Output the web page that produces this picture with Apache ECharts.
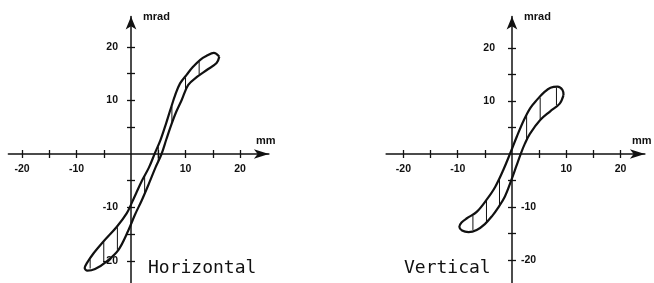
<!DOCTYPE html>
<html>
<head>
<meta charset="utf-8">
<script src="https://cdn.jsdelivr.net/npm/echarts@6/dist/echarts.min.js"></script>
<style>
  html, body { margin: 0; padding: 0; background: #fff; }
  #chart { width: 654px; height: 283px; }
</style>
</head>
<body>
<div id="chart"></div>
<script>
// tick positions and labels (mm / mrad)
var ticks = [-20, -15, -10, -5, 5, 10, 15, 20];
var xLabels = [-20, -10, 10, 20];
var hYLabels = [20, 10, -10, -20];
var vYLabelsLeft = [20, 10];
var vYLabelsRight = [-10, -20];

// Horizontal loop, upper branch then lower branch [mm, mrad]
var hUpper = [[16.2, 18.2], [15.2, 18.9], [13.8, 18.3], [12.7, 17.6], [11.3, 16.2], [10.2, 14.8],
  [9.0, 13.2], [8.1, 11.0], [7.2, 8.2], [6.4, 5.6], [5.4, 2.6], [4.4, 0.2], [3.3, -2.5],
  [2.0, -5.0], [1.0, -7.2], [0.2, -9.0], [-0.8, -11.1], [-2.6, -13.6], [-5.1, -16.4],
  [-6.9, -18.6], [-8.1, -20.4], [-8.5, -21.3]];
var hLower = [[-8.0, -21.8], [-6.6, -21.5], [-4.5, -20.1], [-2.3, -17.9], [-0.5, -14.3],
  [0.7, -11.4], [2.0, -8.6], [3.3, -5.5], [4.5, -2.5], [5.6, 0], [6.5, 2.8], [7.4, 5.5],
  [8.3, 7.9], [9.3, 10.1], [10.5, 12.9], [12.1, 14.4], [13.9, 15.7], [15.7, 17.0], [16.2, 18.2]];
var hHatchX = [12.5, 10, 7.5, 5, 2.5, -2.5, -5, -7.5];
var hHatchTop = [17.2, 14.3, 8.9, 1.3, -4.2, -13.7, -16.5, -19.7];
var hHatchBottom = [14.9, 11.9, 6.0, -1.3, -7.2, -17.9, -20.2, -21.4];

// Vertical loop
var vUpper = [[9.5, 11.1], [9.3, 12.1], [8.4, 12.7], [7.1, 12.5], [6.0, 11.7], [4.6, 10.2],
  [3.4, 8.7], [2.2, 6.4], [0.9, 3.3], [-0.3, 0.2], [-1.6, -3.0], [-3.1, -6.2], [-4.6, -8.5],
  [-6.5, -10.9], [-8.3, -12.1], [-9.3, -12.9], [-9.7, -13.7]];
var vLower = [[-9.2, -14.4], [-8.0, -14.7], [-6.5, -14.3], [-5.0, -13.2], [-3.6, -11.6],
  [-2.6, -10.2], [-1.3, -8.0], [0, -4.6], [0.8, -2.3], [1.6, 0], [2.4, 2.0], [3.3, 3.8],
  [5.2, 6.4], [7.0, 8.0], [8.8, 9.5], [9.5, 11.1]];
var vHatchX = [8.2, 5.2, 2.7, -2.3, -4.7, -7.2];
var vHatchTop = [12.5, 10.6, 7.2, -4.7, -8.8, -11.6];
var vHatchBottom = [9.2, 6.6, 2.8, -9.5, -12.7, -14.3];

var ink = '#111';
var labelFont = { color: ink, fontFamily: 'Liberation Sans', fontWeight: 'bold', fontSize: 10.5 };
var nameFont = { color: ink, fontFamily: 'Liberation Sans', fontWeight: 'bold', fontSize: 11 };

// plot boxes: pixel layout and value ranges
var boxes = [
  { left: 8.4, top: 16.5, width: 260.5, height: 267.5, xMin: -22.5, xMax: 25.3, yMin: -24.3, yMax: 25.7 },
  { left: 386.1, top: 16.5, width: 258.8, height: 267.6, xMin: -23.2, xMax: 24.5, yMin: -24.5, yMax: 25.9 }
];

function zipHatch(xs, tops, bottoms) {
  return xs.map(function (x, i) { return [x, tops[i], bottoms[i]]; });
}

// distance (px) from a box edge to the zero line of the crossing axis
function zeroFromBottom(b) { return b.height * (0 - b.yMin) / (b.yMax - b.yMin); }
function zeroFromTop(b) { return b.height * b.yMax / (b.yMax - b.yMin); }
function zeroFromLeft(b) { return b.width * (0 - b.xMin) / (b.xMax - b.xMin); }
function zeroFromRight(b) { return b.width * b.xMax / (b.xMax - b.xMin); }

function tickStyle() {
  return { customValues: ticks, length: 4, lineStyle: { color: ink, width: 1.3 } };
}

function xAxes(g) {
  var b = boxes[g];
  return [{
    gridIndex: g, type: 'value', min: b.xMin, max: b.xMax, position: 'bottom',
    offset: -zeroFromBottom(b),
    name: 'mm', nameLocation: 'end', nameGap: -13,
    nameTextStyle: Object.assign({ align: 'left', verticalAlign: 'bottom', padding: [0, 0, 8, 0] }, nameFont),
    axisLine: { onZero: false, symbol: ['none', 'arrow'], symbolSize: [7, 15],
      lineStyle: { color: ink, width: 1.5 } },
    axisTick: tickStyle(),
    axisLabel: Object.assign({ customValues: xLabels, margin: 10 }, labelFont),
    splitLine: { show: false }
  }, {
    gridIndex: g, type: 'value', min: b.xMin, max: b.xMax, position: 'top',
    offset: -zeroFromTop(b),
    axisLine: { show: false, onZero: false },
    axisTick: tickStyle(),
    axisLabel: { show: false }, splitLine: { show: false }
  }];
}

function yAxes(g, leftLabels, rightLabels, leftMargin, rightMargin) {
  var b = boxes[g];
  return [{
    gridIndex: g, type: 'value', min: b.yMin, max: b.yMax, position: 'left',
    offset: -zeroFromLeft(b),
    name: 'mrad', nameLocation: 'end', nameGap: 0,
    nameTextStyle: Object.assign({ align: 'left', verticalAlign: 'middle', padding: [0, 0, 0, 12] }, nameFont),
    axisLine: { onZero: false, symbol: ['none', 'arrow'], symbolSize: [8, 13],
      lineStyle: { color: ink, width: 1.5 } },
    axisTick: tickStyle(),
    axisLabel: Object.assign({ customValues: leftLabels, margin: leftMargin, show: leftLabels.length > 0 }, labelFont),
    splitLine: { show: false }
  }, {
    gridIndex: g, type: 'value', min: b.yMin, max: b.yMax, position: 'right',
    offset: -zeroFromRight(b),
    axisLine: { show: false, onZero: false },
    axisTick: tickStyle(),
    axisLabel: Object.assign({ customValues: rightLabels, margin: rightMargin, show: rightLabels.length > 0 }, labelFont),
    splitLine: { show: false }
  }];
}

function loopSeries(xi, yi, data) {
  return { type: 'line', xAxisIndex: xi, yAxisIndex: yi, data: data, smooth: 0.35,
    showSymbol: false, symbol: 'none', silent: true,
    lineStyle: { color: ink, width: 2.2 } };
}

function hatchSeries(xi, yi, data) {
  return { type: 'custom', xAxisIndex: xi, yAxisIndex: yi, data: data, silent: true,
    encode: { x: 0, y: [1, 2] },
    renderItem: function (params, api) {
      var a = api.coord([api.value(0), api.value(1)]);
      var c = api.coord([api.value(0), api.value(2)]);
      return { type: 'line', shape: { x1: a[0], y1: a[1], x2: c[0], y2: c[1] },
        style: { stroke: ink, lineWidth: 1 } };
    } };
}

var myChart = echarts.init(document.getElementById('chart'), null, { renderer: 'canvas' });
var option = {
  backgroundColor: '#fff',
  animation: false,
  title: [
    { text: 'Horizontal', left: 148, top: 259, padding: 0,
      textStyle: { fontFamily: 'DejaVu Sans Mono', fontWeight: 'normal', fontSize: 18, color: ink } },
    { text: 'Vertical', left: 404, top: 259, padding: 0,
      textStyle: { fontFamily: 'DejaVu Sans Mono', fontWeight: 'normal', fontSize: 18, color: ink } }
  ],
  grid: boxes.map(function (b) {
    return { left: b.left, top: b.top, width: b.width, height: b.height,
      outerBoundsMode: 'none', containLabel: false };
  }),
  xAxis: xAxes(0).concat(xAxes(1)),
  yAxis: yAxes(0, hYLabels, [], 13, 8).concat(yAxes(1, vYLabelsLeft, vYLabelsRight, 17, 9)),
  series: [
    loopSeries(0, 0, hUpper.concat(hLower)),
    hatchSeries(0, 0, zipHatch(hHatchX, hHatchTop, hHatchBottom)),
    loopSeries(2, 2, vUpper.concat(vLower)),
    hatchSeries(2, 2, zipHatch(vHatchX, vHatchTop, vHatchBottom))
  ]
};
myChart.setOption(option);
</script>
</body>
</html>
